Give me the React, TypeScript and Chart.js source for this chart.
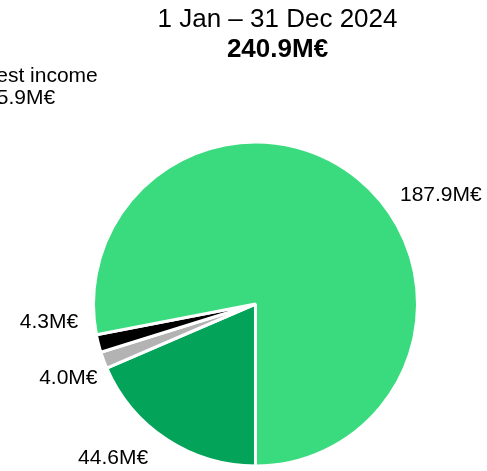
import React, { useEffect, useRef } from "react";
import { Chart, registerables } from "chart.js";

Chart.register(...registerables);

// ---- data ----
const categories = ["Segment A", "Segment B", "Segment C", "Segment D"];
const values = [44.6, 4.0, 4.3, 187.9];
const valueLabels = ["44.6M€", "4.0M€", "4.3M€", "187.9M€"];
const sliceColors = ["#04A35A", "#B3B3B3", "#000000", "#3ADB7E"];
const titleLine1 = "1 Jan – 31 Dec 2024";
const titleLine2 = "240.9M€";
const offChartCategory = "Interest income";
const offChartValue = "5.9M€";

// ---- layout (label nudges relative to the arc mid-angle anchor) ----
const labelNudges: [number, number][] = [
  [-6, 0],
  [15, 10],
  [1.5, -27],
  [27, 33],
];

const FONT = "'Liberation Sans', Arial, Helvetica, sans-serif";

const labelPlugin = {
  id: "pieLabels",
  afterDraw(chart: any) {
    const ctx = chart.ctx as CanvasRenderingContext2D;
    const meta = chart.getDatasetMeta(0);
    ctx.save();
    ctx.fillStyle = "#000";
    ctx.textBaseline = "middle";
    ctx.font = `21px ${FONT}`;
    meta.data.forEach((arc: any, i: number) => {
      const { x, y, startAngle, endAngle, outerRadius } = arc.getProps(
        ["x", "y", "startAngle", "endAngle", "outerRadius"],
        true
      );
      const mid = (startAngle + endAngle) / 2;
      const R = outerRadius + 22.5;
      const ax = x + Math.cos(mid) * R;
      const ay = y + Math.sin(mid) * R;
      const left = Math.cos(mid) < 0;
      ctx.textAlign = left ? "right" : "left";
      const [dx, dy] = labelNudges[i] || [0, 0];
      ctx.fillText(valueLabels[i], ax + dx, ay + dy);
    });
    // off-chart item label (partly outside the view, as in the source)
    ctx.textAlign = "center";
    ctx.fillText(offChartCategory, 26, 76);
    ctx.fillText(offChartValue, 26, 98);
    // title
    ctx.font = `26px ${FONT}`;
    ctx.fillText(titleLine1, 277.5, 20);
    ctx.font = `bold 26px ${FONT}`;
    ctx.fillText(titleLine2, 277.5, 50);
    ctx.restore();
  },
};

export default function App() {
  const ref = useRef<HTMLCanvasElement | null>(null);
  useEffect(() => {
    document.body.style.margin = "0";
    const canvas = ref.current;
    if (!canvas) return;
    const chart = new Chart(canvas, {
      type: "pie",
      data: {
        labels: categories,
        datasets: [
          {
            data: values,
            backgroundColor: sliceColors,
            borderColor: "#ffffff",
            borderWidth: 3,
            radius: 162,
          } as any,
        ],
      },
      options: {
        animation: false,
        responsive: false,
        rotation: 180,
        layout: { padding: { left: 24, right: 0, top: 140, bottom: 3 } },
        plugins: {
          legend: { display: false },
          tooltip: { enabled: false },
          title: { display: false },
        },
      },
      plugins: [labelPlugin],
    });
    return () => chart.destroy();
  }, []);
  return (
    <div style={{ width: 487, height: 471 }}>
      <canvas ref={ref} width={487} height={471} style={{ display: "block" }} />
    </div>
  );
}
